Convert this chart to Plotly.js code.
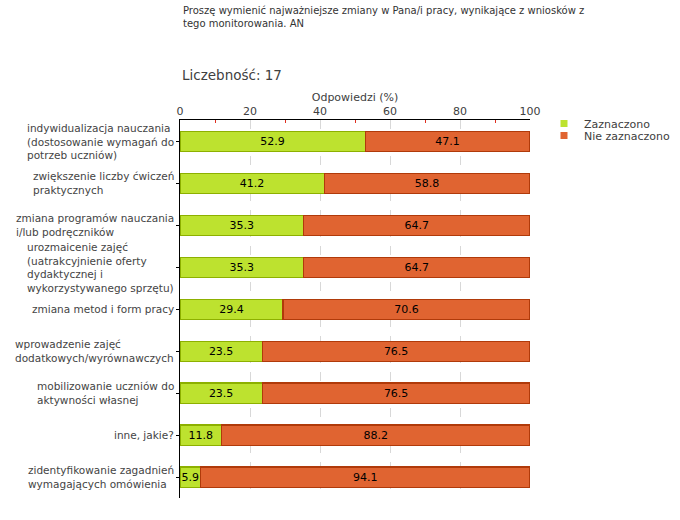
<!DOCTYPE html>
<html><head><meta charset="utf-8">
<script src="https://cdn.plot.ly/plotly-3.0.1.min.js"></script>
<style>body{margin:0;background:#fff}#c{width:680px;height:520px}</style>
</head><body><div id="c"></div>
<script>
const categories = [
  "indywidualizacja nauczania<br>(dostosowanie wymagań do<br>potrzeb uczniów)",
  "zwiększenie liczby ćwiczeń<br>praktycznych",
  "zmiana programów nauczania<br>i/lub podręczników",
  "urozmaicenie zajęć<br>(uatrakcyjnienie oferty<br>dydaktycznej i<br>wykorzystywanego sprzętu)",
  "zmiana metod i form pracy",
  "wprowadzenie zajęć<br>dodatkowych/wyrównawczych",
  "mobilizowanie uczniów do<br>aktywności własnej",
  "inne, jakie?",
  "zidentyfikowanie zagadnień<br>wymagających omówienia"
];
const zaznaczono = [52.9, 41.2, 35.3, 35.3, 29.4, 23.5, 23.5, 11.8, 5.9];
const nieZaznaczono = [47.1, 58.8, 64.7, 64.7, 70.6, 76.5, 76.5, 88.2, 94.1];
const seriesNames = ["Zaznaczono", "Nie zaznaczono"];
const seriesColors = ["#bde22f", "#e06431"];
const seriesBorders = ["#8db000", "#b03a0a"];
const titleText = "Proszę wymienić najważniejsze zmiany w Pana/i pracy, wynikające z wniosków z<br>tego monitorowania. AN";
const countText = "Liczebność: 17";
const xTitle = "Odpowiedzi (%)";

const FONT = "DejaVu Sans, Verdana, sans-serif";
const ids = categories.map((_, i) => "c" + i);
const series = [zaznaczono, nieZaznaczono];

const traces = series.map((vals, k) => ({
  type:'bar', orientation:'h', name:seriesNames[k], y:ids, x:vals, showlegend:false,
  text:vals.map(v=>v.toFixed(1)), textposition:'inside', insidetextanchor:'middle',
  constraintext:'none', textangle:0,
  textfont:{family:FONT, size:11, color:'#000'},
  marker:{color:seriesColors[k], line:{color:seriesBorders[k], width:1.2}}, hoverinfo:'skip'
}));
// legend entries (small square swatches), one legend box per series
seriesNames.forEach((n, k) => traces.push({
  type:'scatter', mode:'markers', name:n, x:[null], y:[null],
  marker:{symbol:'square', size:7, color:seriesColors[k], line:{width:0}},
  showlegend:true, legend: k === 0 ? 'legend' : 'legend2', hoverinfo:'skip'
}));

const annotations = categories.map((c, i) => ({
  xref:'paper', yref:'y', x:-0.012, y:ids[i], text:c, showarrow:false,
  xanchor:'right', yanchor:'middle', align:'left',
  font:{family:FONT, size:10.5, color:'#444'}
}));
annotations.push({xref:'paper', yref:'paper', x:0.0, y:(498-75)/378, xanchor:'left', yanchor:'middle',
  text:countText, showarrow:false, font:{family:FONT, size:13.5, color:'#404040'}});

const legFont = {family:FONT, size:11, color:'#404040'};
const layout = {
  width:680, height:520,
  margin:{l:180, r:150, t:120, b:22, autoexpand:false},
  paper_bgcolor:'#fff', plot_bgcolor:'#fff',
  barmode:'stack', bargap:0.52,
  font:{family:FONT, size:11, color:'#404040'},
  title:{text:titleText, xref:'container', yref:'container', x:183/680, xanchor:'left', y:1-14/520, yanchor:'top',
         font:{family:FONT, size:10, color:'#333'}},
  xaxis:{side:'top', range:[0,100], dtick:20, tick0:0, showline:true, linecolor:'#000', linewidth:1,
         ticks:'', showgrid:true, gridcolor:'#d8d8d8', griddash:'dash', gridwidth:1, zeroline:false,
         tickfont:{family:FONT, size:11, color:'#404040'},
         minor:{dtick:10, ticks:'inside', ticklen:3, tickcolor:'#e03020', showgrid:false},
         title:{text:xTitle, standoff:0, font:{family:FONT, size:11, color:'#404040'}}},
  yaxis:{autorange:'reversed', showline:true, linecolor:'#000', linewidth:1.2, ticks:'outside',
         ticklen:3, tickcolor:'#000', showticklabels:false, showgrid:false, zeroline:false},
  legend:{x:(544-180)/350, y:(498-109)/378, xanchor:'left', yanchor:'top', font:legFont,
          bgcolor:'rgba(0,0,0,0)', itemwidth:30},
  legend2:{x:(544-180)/350, y:(498-121)/378, xanchor:'left', yanchor:'top', font:legFont,
          bgcolor:'rgba(0,0,0,0)', itemwidth:30},
  annotations:annotations
};
Plotly.newPlot('c', traces, layout, {staticPlot:true});
</script></body></html>
